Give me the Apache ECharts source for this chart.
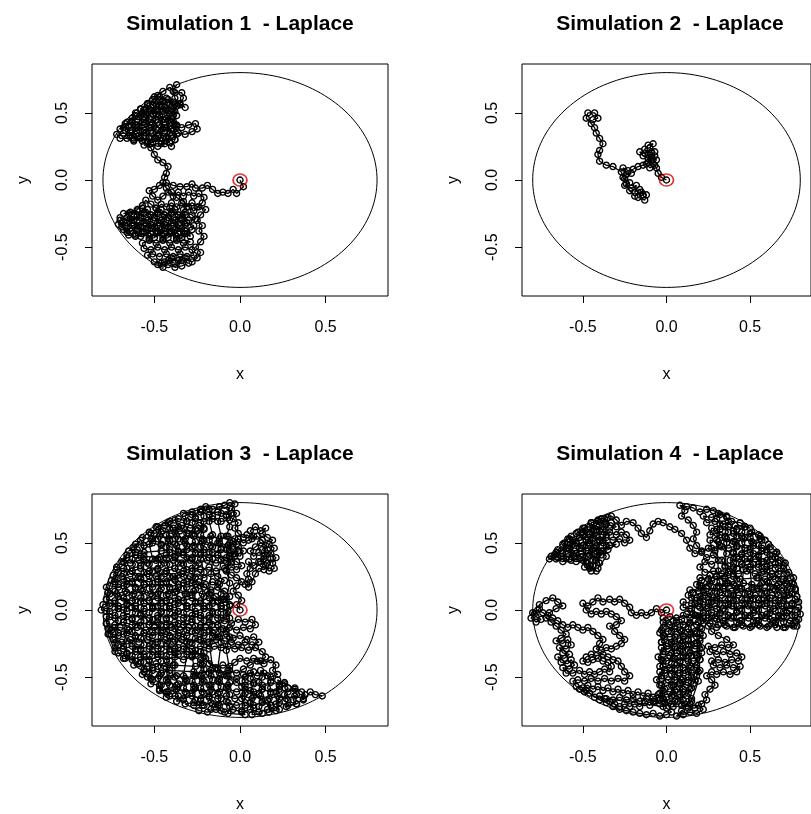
<!DOCTYPE html>
<html>
<head>
<meta charset="utf-8">
<script src="https://cdn.jsdelivr.net/npm/echarts@6/dist/echarts.min.js"></script>
<style>
html,body{margin:0;padding:0;background:#fff;}
#chart{width:811px;height:814px;}
</style>
</head>
<body>
<div id="chart"></div>
<script>
// Random-walk positions for each simulation, in hundredths of a unit ([x, y]).
const walk1 = [
[0,0],[2,-5],[-2,-10],[-4,-7],[-7,-10],[-10,-9],[-13,-10],[-16,-7],[-19,-4],[-22,-6],[-26,-6],[-28,-3],[-31,-5],[-35,-5],[-39,-4],[-43,-2],[-47,-4],[-50,-7],[-53,-8],
[-51,-12],[-48,-15],[-45,-12],[-42,-9],[-39,-12],[-36,-9],[-33,-12],[-30,-9],[-27,-12],[-24,-10],[-21,-13],[-22,-17],[-25,-20],[-28,-17],[-31,-20],[-34,-17],[-37,-20],[-40,-17],[-43,-20],[-46,-18],[-49,-21],[-52,-18],[-55,-15],[-57,-19],[-60,-22],
[-68,-25],[-64,-24],[-60,-26],[-56,-24],[-52,-26],[-48,-24],[-44,-26],[-40,-24],[-36,-26],[-32,-24],[-28,-26],
[-26,-29],[-30,-30],[-34,-28],[-38,-30],[-42,-28],[-46,-30],[-50,-28],[-54,-30],[-58,-28],[-62,-30],[-66,-28],[-70,-30],
[-71,-33],[-67,-34],[-63,-32],[-59,-34],[-55,-32],[-51,-34],[-47,-32],[-43,-34],[-39,-32],[-35,-34],[-31,-32],[-27,-34],
[-28,-37],[-32,-38],[-36,-36],[-40,-38],[-44,-36],[-48,-38],[-52,-36],[-56,-38],[-60,-36],[-64,-38],[-68,-37],
[-65,-41],[-61,-42],[-57,-40],[-53,-42],[-49,-40],[-45,-42],[-41,-40],[-37,-42],[-33,-40],[-29,-42],
[-33,-22],[-32,-26],[-34,-29],[-32,-33],[-34,-36],[-32,-40],[-34,-43],
[-37,-44],[-36,-40],[-38,-37],[-36,-33],[-38,-30],[-36,-26],[-38,-22],
[-41,-21],[-40,-25],[-42,-28],[-40,-32],[-42,-35],[-40,-39],[-42,-43],
[-45,-44],[-44,-40],[-46,-37],[-44,-33],[-46,-30],[-44,-26],[-46,-22],
[-49,-21],[-48,-25],[-50,-28],[-48,-32],[-50,-35],[-48,-39],[-50,-43],
[-53,-44],[-52,-40],[-54,-37],[-52,-33],[-54,-30],[-52,-26],[-54,-22],
[-57,-21],[-56,-25],[-58,-28],[-56,-32],[-58,-35],[-56,-39],[-58,-42],
[-61,-41],[-60,-37],[-62,-34],[-60,-30],[-62,-27],[-60,-23],
[-65,-25],[-64,-29],[-66,-32],[-64,-36],[-66,-39],
[-69,-35],[-68,-31],[-70,-28],
[-29,-46],[-33,-47],[-37,-45],[-41,-47],[-45,-45],[-49,-47],[-53,-45],[-57,-47],
[-56,-51],[-52,-52],[-48,-50],[-44,-52],[-40,-50],[-36,-52],[-32,-50],[-28,-52],
[-27,-56],[-31,-57],[-35,-55],[-39,-57],[-43,-55],[-47,-57],[-51,-55],[-54,-56],
[-50,-61],[-46,-62],[-42,-60],[-38,-62],[-34,-60],[-30,-62],
[-34,-64],[-38,-65],[-42,-63],[-45,-65],[-48,-63],
[-44,-61],[-40,-58],[-36,-60],[-32,-58],[-28,-61],[-25,-58],[-23,-54],[-26,-50],[-23,-46],[-21,-42],[-24,-38],[-22,-34],[-25,-30],[-23,-26],[-20,-22],[-24,-20],[-27,-23],
[-30,-20],[-33,-16],[-37,-13],[-40,-9],[-43,-6],[-45,-2],[-44,2],[-43,5],[-42,10],[-45,13],[-48,15],[-50,19],[-52,24],
[-56,26],[-52,27],[-48,25],[-44,27],[-40,25],
[-38,30],[-42,31],[-46,29],[-50,31],[-54,29],[-58,31],[-62,29],[-66,31],[-70,31],
[-72,34],[-68,35],[-64,33],[-60,35],[-56,33],[-52,35],[-48,33],[-44,35],[-40,33],[-36,35],[-32,34],[-28,36],[-25,38],[-26,42],[-30,41],[-34,39],[-37,40],
[-40,38],[-44,39],[-48,37],[-52,39],[-56,37],[-60,39],[-64,37],[-68,39],[-70,38],
[-67,42],[-63,43],[-60,41],[-56,43],[-52,41],[-48,43],[-44,41],[-40,43],[-38,41],
[-40,46],[-44,45],[-48,47],[-52,45],[-56,47],[-60,45],[-63,46],
[-61,50],[-57,49],[-53,51],[-49,49],[-45,51],[-41,49],[-38,51],
[-40,53],[-44,54],[-48,52],[-52,54],[-56,52],[-58,53],
[-54,57],[-50,58],[-46,56],[-42,58],[-38,56],
[-38,30],[-37,34],[-39,37],[-37,41],[-39,44],[-37,48],[-39,51],[-37,55],[-39,58],
[-42,60],[-41,56],[-43,53],[-41,49],[-43,46],[-41,42],[-43,39],[-41,35],[-43,32],[-41,28],
[-46,27],[-45,31],[-47,34],[-45,38],[-47,41],[-45,45],[-47,48],[-45,52],[-47,55],[-45,59],[-47,62],
[-50,62],[-49,59],[-51,56],[-49,52],[-51,49],[-49,45],[-51,42],[-49,38],[-51,35],[-49,31],[-51,28],
[-54,28],[-53,32],[-55,35],[-53,39],[-55,42],[-53,46],[-55,49],[-53,53],[-54,56],
[-58,53],[-57,50],[-59,47],[-57,43],[-59,40],[-57,36],[-59,33],[-57,29],
[-62,30],[-61,34],[-63,37],[-61,41],[-63,44],[-61,48],
[-66,43],[-65,40],[-67,37],[-65,33],
[-43,61],[-47,60],[-51,60],[-48,63],[-45,66],[-41,69],[-38,65],[-34,65],[-33,61],[-35,57],[-32,54],[-35,56],[-38,61],[-39,66],[-37,71]
];

const walk2 = [
[0,0],[-3,2],[-5,5],[-6,9],[-8,12],[-6,15],[-9,17],[-7,21],[-10,24],[-8,27],[-11,26],[-13,23],[-11,19],[-9,14],[-12,12],[-10,9],[-7,11],[-11,16],[-14,18],[-16,21],[-13,20],[-9,21],[-7,18],[-11,13],[-14,11],[-17,10],[-20,8],[-23,7],[-26,9],[-24,4],[-21,5],[-25,1],[-22,-2],[-25,-4],[-21,-6],[-18,-4],[-19,-9],[-16,-7],[-14,-11],[-17,-13],[-13,-15],[-12,-11],[-15,-9],[-19,-12],[-22,-8],[-24,-3],[-26,2],[-27,6],
[-32,10],[-36,11],[-40,14],[-41,19],[-40,22],[-38,27],[-40,31],[-42,35],[-43,39],[-45,42],[-48,46],[-47,50],[-43,50],[-41,46],[-44,45]
];

const walk3 = [
[0,0],[-2,4],[1,7],[-1,11],[-4,14],[-2,18],[1,21],[-2,24],[-5,26],[-8,29],[-5,32],[-2,30],[1,33],[-2,36],[-5,38],[-8,36],[-6,40],[-3,42],[0,40],[2,44],[-1,47],[-4,45],[-7,48],[-4,51],[-1,53],[2,50],
[5,52],[8,55],[6,59],[9,62],[12,59],[15,61],[13,57],[16,54],[19,52],[17,49],[20,46],[18,42],[21,39],[19,35],[20,31],[17,29],[15,33],[12,36],[14,40],[11,43],[8,40],[6,44],[9,47],[12,50],[15,48],[13,45],[16,42],[14,38],[11,36],[8,33],[5,36],[6,31],[4,27],[5,23],[3,19],[5,17],[7,21],[9,27],[11,31],[14,30],[16,35],[18,38],[16,45],[13,52],[10,55],[7,53],[4,56],[2,54],
[-1,57],[-3,61],[-1,65],[-4,68],[-2,72],[-5,75],[-3,79],[-6,80],[-9,78],
[-12,77],[-16,75],[-20,77],[-23,75],
[-33,72],[-28,71],[-23,73],[-18,71],[-13,73],[-8,71],[-5,72],
[-6,67],[-11,66],[-16,68],[-21,66],[-26,68],[-31,66],[-36,68],[-41,66],
[-49,62],[-44,63],[-39,61],[-34,63],[-29,61],[-24,63],[-21,60],
[-25,59],[-30,57],[-35,59],[-40,57],[-45,59],[-50,57],[-53,58],
[-57,54],[-52,53],[-47,55],[-42,53],[-37,55],[-32,53],[-27,55],[-22,53],[-17,55],[-12,53],[-7,55],[-3,53],
[-2,49],[-7,48],[-12,50],[-17,48],[-22,50],[-27,48],[-32,50],[-37,48],[-42,50],[-46,48],[-51,50],[-56,48],[-61,49],
[-65,44],[-60,45],[-56,43],[-46,44],[-41,45],[-36,43],[-31,45],[-26,43],[-21,45],[-16,43],[-11,45],[-6,43],[-1,44],
[-3,40],[-8,39],[-13,41],[-18,39],[-23,41],[-28,39],[-33,41],[-38,39],[-43,41],[-47,39],[-56,40],[-61,41],[-66,39],
[-69,36],[-64,35],[-59,37],[-54,35],[-49,37],[-44,35],[-39,37],[-34,35],[-29,37],[-24,35],[-19,37],[-14,35],[-9,37],[-5,35],
[-9,31],[-14,29],[-18,32],[-23,30],[-28,31],[-33,29],[-38,31],[-43,29],[-48,31],[-53,29],[-58,31],[-63,29],[-68,31],[-72,30],
[-74,26],[-69,25],[-64,27],[-59,25],[-54,27],[-49,25],[-44,27],[-39,25],[-34,27],[-29,25],[-25,27],[-21,24],[-17,27],[-13,25],[-9,22],[-12,19],[-16,21],[-20,19],[-24,21],
[-28,22],[-33,20],[-38,23],[-43,21],[-48,23],[-53,21],[-58,23],[-63,21],[-68,23],[-73,21],[-75,22],
[-76,18],[-71,17],[-66,19],[-61,17],[-56,19],[-51,17],[-46,19],[-41,17],[-36,19],[-31,17],[-26,19],[-21,17],[-17,15],[-13,17],[-9,14],[-6,10],[-10,8],[-14,10],
[-17,13],[-22,12],[-27,14],[-32,12],[-37,14],[-42,12],[-47,14],[-52,12],[-57,14],[-62,12],[-67,14],[-72,12],[-77,13],
[-78,8],[-73,7],[-68,9],[-63,7],[-58,9],[-53,7],[-48,9],[-43,7],[-38,9],[-33,7],[-28,9],[-23,7],[-18,9],[-13,7],[-9,8],
[-6,4],[-11,3],[-16,5],[-21,3],[-26,5],[-31,3],[-36,5],[-41,3],[-46,5],[-51,3],[-56,5],[-61,3],[-66,5],[-71,3],[-76,5],[-80,4],
[-81,0],[-76,-1],[-71,1],[-66,-1],[-61,1],[-56,-1],[-51,1],[-46,-1],[-41,1],[-36,-1],[-31,1],[-26,-1],[-21,1],[-16,-1],[-11,1],[-7,-1],
[-8,-5],[-13,-6],[-18,-4],[-23,-6],[-28,-4],[-33,-6],[-38,-4],[-43,-6],[-48,-4],[-53,-6],[-58,-4],[-63,-6],[-68,-4],[-73,-6],[-78,-5],
[-78,-10],[-73,-11],[-68,-9],[-63,-11],[-58,-9],[-53,-11],[-48,-9],[-43,-11],[-38,-9],[-33,-11],[-28,-9],[-23,-11],[-18,-9],[-13,-11],[-9,-8],[-5,-10],[-1,-7],[3,-9],[7,-7],[9,-11],[6,-14],[2,-13],[-2,-15],[-6,-13],
[-10,-14],[-15,-15],[-20,-13],[-25,-15],[-30,-13],[-35,-15],[-40,-13],[-45,-15],[-50,-13],[-55,-15],[-60,-13],[-65,-15],[-70,-13],[-75,-15],[-77,-14],
[-76,-18],[-71,-19],[-66,-17],[-61,-19],[-56,-17],[-51,-19],[-46,-17],[-41,-19],[-36,-17],[-31,-19],[-26,-17],[-21,-19],[-16,-17],[-12,-20],[-8,-18],[-4,-21],[0,-19],[4,-22],[8,-20],[11,-24],[7,-26],[3,-24],[-1,-26],[-5,-24],
[-9,-23],[-14,-22],[-19,-24],[-24,-22],[-29,-24],[-34,-22],[-39,-24],[-44,-22],[-49,-24],[-54,-22],[-59,-24],[-64,-22],[-69,-24],[-74,-22],
[-73,-28],[-68,-29],[-63,-27],[-58,-29],[-53,-27],[-48,-29],[-43,-27],[-38,-29],[-33,-27],[-28,-29],[-23,-27],[-18,-29],[-15,-27],[-11,-28],[-7,-27],[-3,-29],[1,-28],[5,-30],[9,-28],[13,-31],[15,-35],[12,-38],[8,-36],[4,-38],[0,-36],[-3,-39],[-6,-42],[-10,-41],[-14,-43],[-18,-40],[-20,-36],
[-21,-32],[-26,-33],[-31,-31],[-36,-33],[-41,-31],[-46,-33],[-51,-31],[-56,-33],[-61,-31],[-66,-33],[-71,-32],
[-68,-36],[-63,-37],[-58,-35],[-53,-37],[-48,-35],[-43,-37],[-38,-35],[-33,-37],[-28,-35],[-23,-37],
[-22,-41],[-26,-42],[-39,-41],[-44,-42],[-49,-40],[-54,-42],[-59,-40],[-62,-41],
[-56,-46],[-51,-45],[-46,-47],[-41,-45],[-27,-46],[-22,-47],[-17,-45],[-12,-47],[-7,-45],[-2,-47],[2,-44],[6,-41],[10,-38],[14,-40],[18,-37],[21,-41],[19,-45],[22,-48],[18,-50],[14,-47],[10,-49],[6,-47],[3,-50],
[-2,-51],[-7,-49],[-12,-51],[-17,-49],[-22,-51],[-27,-49],[-32,-51],[-37,-49],[-42,-51],[-47,-49],[-52,-51],[-54,-50],
[-52,-55],[-47,-56],[-42,-54],[-37,-56],[-32,-54],[-27,-56],[-22,-54],[-17,-56],[-12,-54],[-7,-56],[-2,-54],[3,-56],[8,-54],[13,-56],[18,-54],[23,-56],[26,-54],
[32,-59],[28,-61],[23,-59],[18,-61],[13,-59],[8,-61],[3,-59],[-2,-61],[-7,-59],[-12,-61],[-17,-59],[-22,-61],[-27,-59],[-32,-61],[-37,-59],[-42,-61],[-47,-59],
[-43,-65],[-38,-64],[-33,-66],[-28,-64],[-23,-66],[-18,-64],[-13,-66],[-8,-64],[-3,-66],[2,-64],[7,-66],[12,-64],[17,-66],[22,-64],[27,-66],[32,-64],[37,-66],
[33,-70],[28,-71],[23,-69],[18,-71],[13,-69],[8,-71],[3,-69],[-2,-71],[-7,-69],[-12,-71],[-17,-69],[-22,-71],[-27,-69],[-32,-70],
[-24,-75],[-19,-76],[-14,-74],[-9,-76],[-4,-74],[1,-76],[6,-74],[11,-76],[16,-74],[21,-75],
[-78,17],[-76,12],[-78,8],[-76,3],[-78,-1],[-76,-5],[-78,-10],[-76,-14],[-77,-18],
[-73,-31],[-71,-26],[-73,-22],[-71,-17],[-73,-13],[-71,-8],[-73,-4],[-71,1],[-73,5],[-71,10],[-73,14],[-71,19],[-73,23],[-71,28],[-72,32],
[-66,41],[-68,36],[-66,31],[-68,27],[-66,22],[-68,18],[-66,13],[-68,9],[-66,4],[-68,0],[-66,-5],[-68,-9],[-66,-14],[-68,-18],[-66,-23],[-68,-27],[-66,-32],[-67,-36],
[-61,-38],[-63,-34],[-61,-29],[-63,-25],[-61,-20],[-63,-16],[-61,-11],[-63,-7],[-61,-2],[-63,2],[-61,7],[-63,11],[-61,16],[-63,20],[-61,25],[-63,29],[-61,34],[-63,38],[-61,43],[-62,47],
[-58,52],[-56,48],[-58,40],[-56,37],[-58,33],[-56,28],[-58,24],[-56,19],[-58,15],[-56,10],[-58,6],[-56,1],[-58,-3],[-56,-8],[-58,-12],[-56,-17],[-58,-21],[-56,-26],[-58,-30],[-56,-35],[-58,-39],[-56,-44],[-57,-48],
[-51,-52],[-53,-47],[-51,-43],[-53,-38],[-51,-34],[-53,-29],[-51,-25],[-53,-20],[-51,-16],[-53,-11],[-51,-7],[-53,-2],[-51,2],[-53,7],[-51,11],[-53,16],[-51,20],[-53,25],[-51,29],[-53,34],[-51,38],[-53,49],[-51,53],[-52,57],
[-48,62],[-46,58],[-48,53],[-46,49],[-48,38],[-46,34],[-48,30],[-46,25],[-48,21],[-46,16],[-48,12],[-46,7],[-48,3],[-46,-2],[-48,-6],[-46,-11],[-48,-15],[-46,-20],[-48,-24],[-46,-29],[-48,-33],[-46,-38],[-48,-42],[-46,-47],[-48,-51],[-46,-56],[-47,-60],
[-41,-64],[-43,-61],[-41,-56],[-43,-52],[-41,-47],[-43,-43],[-41,-38],[-43,-34],[-41,-29],[-43,-25],[-41,-20],[-43,-16],[-41,-11],[-43,-7],[-41,-2],[-43,2],[-41,7],[-43,11],[-41,16],[-43,20],[-41,25],[-43,29],[-41,34],[-43,38],[-41,43],[-43,47],[-41,52],[-43,56],[-41,61],[-42,65],
[-38,67],[-36,62],[-38,58],[-36,53],[-38,49],[-36,44],[-38,40],[-36,35],[-38,31],[-36,26],[-38,22],[-36,17],[-38,13],[-36,8],[-38,4],[-36,-1],[-38,-5],[-36,-10],[-38,-14],[-36,-19],[-38,-23],[-36,-28],[-38,-32],[-38,-41],[-38,-50],[-36,-55],[-38,-59],[-36,-64],[-37,-68],
[-33,-67],[-31,-62],[-33,-58],[-31,-53],[-33,-49],[-31,-33],[-33,-29],[-31,-24],[-33,-20],[-31,-15],[-33,-11],[-31,-6],[-33,-2],[-31,3],[-33,7],[-31,12],[-33,16],[-31,21],[-33,25],[-31,30],[-33,34],[-31,39],[-33,43],[-31,48],[-33,52],[-31,57],[-33,61],[-31,66],[-32,70],
[-28,73],[-26,69],[-28,65],[-26,60],[-28,56],[-26,51],[-28,47],[-26,42],[-28,38],[-26,33],[-28,29],[-26,24],[-28,20],[-26,15],[-28,11],[-26,6],[-28,2],[-26,-3],[-28,-7],[-26,-12],[-28,-16],[-26,-21],[-28,-25],[-26,-30],[-28,-34],[-26,-49],[-28,-53],[-26,-58],[-28,-62],[-26,-67],[-27,-71],
[-21,-71],[-23,-67],[-21,-62],[-23,-58],[-21,-53],[-23,-49],[-21,-44],[-23,-40],[-21,-35],[-23,-31],[-21,-26],[-23,-22],[-21,-17],[-23,-13],[-21,-8],[-23,-4],[-21,1],[-23,5],[-21,10],[-23,18],[-21,28],[-23,38],[-21,43],[-23,47],[-21,52],[-23,56],[-21,61],[-23,65],[-21,70],[-22,74],
[-18,75],[-16,70],[-18,66],[-16,56],[-18,52],[-16,47],[-18,43],[-16,38],[-18,12],[-16,7],[-18,3],[-16,-2],[-18,-6],[-16,-11],[-18,-15],[-16,-20],[-18,-24],[-16,-43],[-18,-47],[-16,-52],[-18,-56],[-16,-61],[-18,-65],[-16,-70],[-17,-74],
[-11,-75],[-13,-71],[-11,-66],[-13,-62],[-11,-57],[-13,-53],[-11,-48],[-13,-44],[-11,-24],[-13,-20],[-11,-15],[-13,-11],[-11,-6],[-13,-2],[-11,3],[-13,7],[-11,12],[-13,20],[-11,37],[-13,41],[-11,46],[-13,50],[-11,55],[-13,66],[-11,72],[-12,77],
[-6,76],[-8,70],[-6,62],[-8,55],[-6,50],[-8,45],[-6,40],[-8,30],[-6,20],[-8,8],[-6,3],[-8,-2],[-6,-6],[-8,-15],[-6,-20],[-8,-30],[-6,-45],[-8,-49],[-6,-54],[-8,-58],[-6,-63],[-8,-68],[-6,-72],[-7,-77],
[3,-78],[1,-75],[3,-71],[1,-66],[3,-62],[1,-57],[3,-53],[2,-48],
[8,-46],[6,-51],[8,-55],[6,-60],[8,-64],[6,-69],[8,-73],[7,-78],
[13,-77],[11,-72],[13,-68],[11,-63],[13,-59],[11,-54],[13,-50],[12,-45],
[16,-49],[18,-53],[16,-58],[18,-62],[16,-67],[18,-71],[17,-76],
[23,-74],[21,-70],[23,-66],[21,-61],[23,-57],[22,-52],
[26,-55],[28,-58],[26,-63],[28,-67],[27,-72],
[33,-70],[31,-67],[33,-63],[32,-58],
[36,-61],[38,-63],[37,-67],
[41,-61],[44,-63],[48,-64]
];

const walk4 = [
[0,0],[-3,-2],[-6,1],[-9,-2],[-12,-4],[-15,-2],[-18,-4],[-21,-2],[-22,2],[-25,5],[-28,8],[-31,6],[-34,8],[-38,6],[-41,9],[-44,6],[-47,3],[-50,5],[-48,0],[-45,-3],[-42,-1],[-39,-3],[-36,-1],[-33,-3],[-30,-5],[-27,-8],[-30,-11],[-34,-12],
[-31,-16],[-28,-19],[-25,-22],[-27,-25],[-30,-27],[-33,-29],[-36,-28],[-39,-30],[-42,-29],[-40,-25],[-38,-22],[-41,-19],[-44,-16],[-47,-13],[-50,-15],[-53,-13],[-56,-11],[-59,-13],[-62,-11],[-65,-8],[-68,-6],[-71,-4],[-74,-2],[-77,0],[-80,-2],[-78,-5],[-75,-7],[-78,-9],[-81,-6],[-79,-3],[-76,1],[-76,4],[-72,7],[-68,9],[-65,6],[-62,3],[-66,1],[-70,-2],[-72,-6],[-69,-9],[-66,-12],
[-63,-15],[-60,-18],[-63,-21],[-66,-23],[-62,-25],[-59,-22],[-57,-26],[-60,-29],[-64,-28],[-62,-32],[-58,-33],[-61,-36],[-65,-35],[-63,-39],[-59,-40],[-57,-37],[-55,-41],[-58,-44],[-62,-43],[-60,-47],[-56,-47],
[-52,-45],[-49,-48],[-46,-46],[-43,-48],[-40,-46],[-37,-44],[-34,-46],[-33,-42],[-35,-39],[-38,-38],[-41,-36],[-44,-37],[-47,-39],[-50,-38],[-48,-35],[-45,-33],[-42,-34],[-38,-33],[-35,-35],[-32,-37],[-29,-38],[-27,-42],[-25,-46],[-22,-49],
[-25,-53],[-29,-51],[-33,-53],[-37,-51],[-41,-53],[-45,-51],[-49,-53],[-53,-52],[-56,-53],[-54,-57],[-50,-58],[-47,-56],[-44,-59],[-41,-57],[-38,-60],[-35,-58],[-32,-61],[-29,-59],[-26,-62],[-23,-60],[-20,-63],[-17,-61],[-14,-64],[-11,-62],[-8,-65],[-5,-63],[-2,-66],
[-4,-70],[-7,-68],[-10,-71],[-13,-69],[-16,-72],[-19,-70],[-22,-72],[-25,-70],[-28,-72],[-31,-70],[-34,-68],[-37,-66],[-40,-64],[-43,-65],[-46,-62],[-49,-61],[-52,-59],[-48,-60],
[-40,-67],[-36,-69],[-32,-72],[-28,-74],[-24,-75],[-20,-76],[-16,-77],[-12,-78],[-8,-77],[-4,-79],[0,-78],[3,-76],[0,-73],
[-4,-67],[-8,-68],[-12,-66],[-16,-68],[-20,-66],[-24,-67],[-28,-65],[-32,-67],[-36,-66],
[-2,-72],[1,-69],[-2,-66],[-4,-62],[-1,-59],[-4,-56],[-6,-52],[-3,-49],[-1,-45],[-4,-42],[-2,-38],[-5,-35],[-2,-31],[0,-27],[-3,-24],[-1,-20],[-4,-17],[-2,-13],[1,-10],[-2,-6],[2,-5],[6,-6],[10,-4],[14,-6],[18,-4],[22,-6],
[22,-10],[18,-11],[14,-9],[10,-11],[6,-9],[2,-11],[-2,-9],
[-3,-15],[1,-16],[5,-14],[9,-16],[13,-14],[17,-16],[21,-14],
[22,-19],[18,-20],[14,-18],[10,-20],[6,-18],[2,-20],[-2,-19],
[-3,-24],[1,-25],[5,-23],[9,-25],[13,-23],[17,-25],[20,-23],
[21,-28],[17,-29],[13,-27],[9,-29],[5,-27],[1,-29],[-3,-28],
[-2,-33],[2,-34],[6,-32],[10,-34],[14,-32],[18,-34],[21,-32],
[20,-37],[16,-38],[12,-36],[8,-38],[4,-36],[0,-38],[-3,-37],
[-2,-42],[2,-43],[6,-41],[10,-43],[14,-41],[18,-43],
[19,-46],[15,-47],[11,-45],[7,-47],[3,-45],[-1,-47],[-4,-46],
[-3,-51],[1,-52],[5,-50],[9,-52],[13,-50],[17,-52],
[16,-55],[12,-56],[8,-54],[4,-56],[0,-54],[-3,-56],
[-2,-60],[2,-61],[6,-59],[10,-61],[14,-59],
[12,-64],[8,-65],[4,-63],[0,-65],[-3,-64],
[-1,-69],[3,-70],[7,-68],[11,-70],[15,-68],
[19,-53],[18,-49],[20,-45],[18,-41],[20,-37],[18,-33],[20,-29],[18,-25],[20,-21],[18,-17],[20,-13],[19,-9],
[14,-10],[13,-14],[15,-18],[13,-22],[15,-26],[13,-30],[15,-34],[13,-38],[15,-42],[13,-46],[15,-50],[13,-54],[15,-58],[13,-62],[15,-66],[14,-70],
[9,-71],[10,-67],[8,-63],[10,-59],[8,-55],[10,-51],[8,-47],[10,-43],[8,-39],[10,-35],[8,-31],[10,-27],[8,-23],[10,-19],[8,-15],[10,-11],[9,-7],
[4,-8],[5,-12],[3,-16],[5,-20],[3,-24],[5,-28],[3,-32],[5,-36],[3,-40],[5,-44],[3,-48],[5,-52],[3,-56],[5,-60],[3,-64],[5,-68],[4,-72],
[19,-71],[22,-74],[18,-77],[14,-76],[10,-78],[6,-79],[9,-75],[13,-73],[17,-73],[21,-70],[24,-67],[23,-63],[26,-59],[29,-56],[27,-52],[24,-49],[27,-46],[30,-48],
[34,-46],[38,-48],[42,-46],[44,-42],[40,-43],[36,-41],[32,-43],[28,-41],[27,-38],[31,-37],[35,-39],[39,-37],[43,-38],[45,-35],[42,-32],[38,-33],[34,-31],[30,-33],[26,-31],[25,-27],[29,-28],[33,-26],[37,-28],[40,-26],[36,-22],[31,-19],[27,-16],[25,-12],
[30,-13],[35,-11],[40,-13],[45,-11],[50,-13],[55,-11],[60,-13],[65,-11],[70,-13],[75,-11],[78,-12],
[79,-7],[74,-8],[69,-6],[64,-8],[59,-6],[54,-8],[49,-6],[44,-8],[39,-6],[34,-8],[29,-6],[24,-8],
[12,-3],[17,-4],[22,-2],[27,-4],[32,-2],[37,-4],[42,-2],[47,-4],[52,-2],[57,-4],[62,-2],[67,-4],[72,-2],[77,-4],[80,-3],
[79,2],[74,1],[69,3],[64,1],[59,3],[54,1],[49,3],[44,1],[39,3],[34,1],[29,3],[24,1],[19,3],[14,1],[10,2],
[10,6],[15,5],[20,7],[25,5],[30,7],[35,5],[40,7],[45,5],[50,7],[55,5],[60,7],[65,5],[70,7],[75,5],[79,6],
[78,10],[73,11],[68,9],[63,11],[58,9],[53,11],[48,9],[43,11],[38,9],[33,11],[28,9],[23,11],[18,9],[13,11],
[14,15],[19,14],[24,16],[29,14],[34,16],[39,14],[44,16],[49,14],[54,16],[59,14],[64,16],[69,14],[74,16],[77,15],
[76,19],[71,20],[66,18],[61,20],[56,18],[51,19],[46,20],[41,18],[36,20],[31,18],[26,20],[21,18],[18,19],
[20,24],[25,23],[30,25],[35,23],[40,25],[44,23],[54,24],[59,23],[64,25],[69,23],[74,24],
[73,28],[68,29],[63,27],[58,29],[53,27],[48,29],[43,27],[38,29],[33,27],[28,29],[23,28],
[20,32],[23,36],[27,34],[31,37],[28,41],[24,39],[21,43],[25,46],[29,44],[33,47],[36,42],[33,37],[35,33],
[40,32],[45,34],[50,32],[55,34],[60,32],[65,34],[70,33],
[68,37],[63,38],[58,36],[53,38],[48,36],[43,38],[38,37],
[40,42],[45,41],[50,43],[55,41],[60,43],[65,42],
[71,35],[70,31],[72,27],[70,23],[72,19],[70,15],[72,11],[70,7],[72,3],[70,-1],[72,-5],[70,-9],[71,-13],
[76,-12],[77,-8],[75,-4],[77,0],[75,4],[77,8],[75,12],[77,16],[75,20],[76,24],
[66,-13],[65,-9],[67,-5],[65,-1],[67,3],[65,7],[67,11],[65,15],[67,19],[65,23],[67,27],[65,31],[67,35],[65,39],[66,43],
[61,49],[60,45],[62,41],[60,37],[62,33],[60,29],[62,25],[60,21],[62,17],[60,13],[62,9],[60,5],[62,1],[60,-3],[62,-7],[61,-12],
[56,-12],[55,-8],[57,-4],[55,0],[57,4],[55,8],[57,12],[55,16],[57,20],[55,24],[57,28],[55,32],[57,36],[55,40],[57,44],[55,48],[57,52],[56,55],
[51,58],[50,54],[52,50],[50,46],[52,42],[50,38],[52,34],[50,30],[51,16],[50,12],[52,8],[50,4],[52,0],[50,-4],[52,-8],[51,-12],
[46,-12],[45,-8],[47,-4],[45,0],[47,4],[45,8],[47,12],[45,16],[46,30],[45,34],[47,38],[45,42],[47,46],[45,50],[47,54],[45,58],[47,62],
[41,63],[40,59],[42,55],[40,51],[42,47],[40,43],[42,39],[40,35],[42,31],[40,27],[42,23],[40,19],[42,15],[40,11],[42,7],[40,3],[42,-1],[40,-5],[42,-9],[41,-13],
[36,-12],[35,-8],[37,-4],[35,0],[37,4],[35,8],[37,12],[35,16],[37,20],[35,24],[37,28],[35,32],[36,50],[35,54],[37,58],[35,62],[37,66],[36,69],
[31,72],[30,68],[32,64],[30,60],[32,56],[30,52],[31,29],[30,25],[32,21],[30,17],[32,13],[30,9],[32,5],[30,1],[32,-3],[30,-7],[31,-11],
[26,-10],[25,-6],[27,-2],[25,2],[27,6],[25,10],[27,14],[25,18],[27,22],[26,26],
[21,22],[20,18],[22,14],[20,10],[22,6],[20,2],[22,-2],[20,-6],
[16,-3],[15,1],[17,5],[15,9],[16,13],
[62,47],[57,46],[52,48],[47,46],[42,48],[37,46],[32,48],[27,46],
[26,52],[31,51],[36,53],[41,51],[46,53],[51,51],[56,53],[59,52],
[55,56],[50,57],[45,55],[40,57],[35,55],[30,57],[26,56],
[27,61],[32,60],[37,62],[42,60],[47,62],[50,61],
[44,65],[39,66],[34,64],[29,66],[24,65],
[22,70],[27,69],[32,71],[36,70],
[28,74],[24,75],[20,73],[16,76],[12,77],[8,78],[11,74],
[9,70],[13,67],[16,63],[18,58],[16,53],[18,48],[21,44],[17,42],[14,46],[12,52],[9,57],[5,60],[2,62],[-2,65],[-5,66],[-8,64],[-10,59],[-12,54],[-15,57],[-17,61],[-20,65],[-24,66],[-27,63],[-30,67],[-33,70],
[-35,69],[-39,68],
[-45,65],[-41,66],[-37,64],[-33,65],
[-30,62],[-34,61],[-38,62],[-42,60],[-46,62],[-50,61],
[-54,57],[-50,58],[-46,56],[-42,58],[-38,56],[-34,58],[-30,56],[-27,58],[-24,56],[-22,52],[-25,50],
[-28,53],[-32,52],[-36,54],[-40,52],[-44,54],[-48,52],[-52,54],[-56,52],[-59,53],
[-62,49],[-58,48],[-54,50],[-50,48],[-46,50],[-42,48],[-38,50],[-34,48],[-30,49],
[-35,45],[-39,44],[-43,46],[-47,44],[-51,46],[-55,44],[-59,46],[-63,44],[-65,45],
[-67,41],[-63,40],[-59,42],[-55,40],[-51,42],[-47,40],[-43,42],[-39,41],
[-42,37],[-44,33],[-42,29],[-46,31],[-48,35],
[-50,37],[-54,36],[-58,38],[-62,36],[-66,38],[-70,38],
[-37,68],[-36,64],[-38,60],[-36,56],[-38,52],[-36,48],[-38,44],[-36,40],
[-41,31],[-40,35],[-42,39],[-40,43],[-42,47],[-40,51],[-42,55],[-40,59],[-42,63],[-41,67],
[-45,65],[-44,61],[-46,57],[-44,53],[-46,49],[-44,45],[-46,41],[-44,37],[-46,33],[-45,29],
[-49,32],[-48,36],[-50,40],[-48,44],[-50,48],[-48,52],[-50,56],[-49,61],
[-53,58],[-52,54],[-54,50],[-52,46],[-54,42],[-52,38],
[-57,37],[-56,41],[-58,45],[-56,49],[-58,53],[-57,55],
[-61,50],[-60,46],[-62,42],[-60,38],
[-65,39],[-66,43],[-69,40]
];

const titles = [
  'Simulation 1  - Laplace',
  'Simulation 2  - Laplace',
  'Simulation 3  - Laplace',
  'Simulation 4  - Laplace'
];
const tickValues = [-0.5, 0, 0.5];
const startPoint = [0, 0];
const RADIUS = 0.8;          // radius of the domain boundary
const AXIS_LIMIT = 0.864;    // axis range with 4% padding around +-0.8

const FONT = '"Liberation Sans", Arial, Helvetica, sans-serif';
const PLOT_W = 296, PLOT_H = 232;
const gridPos = [[92, 64], [522, 64], [92, 494], [522, 494]];
const walks = [walk1, walk2, walk3, walk4];

// Domain boundary: circle of radius RADIUS around the origin
const boundary = [];
for (let deg = 0; deg <= 360; deg += 2) {
  const t = deg * Math.PI / 180;
  boundary.push([RADIUS * Math.cos(t), RADIUS * Math.sin(t)]);
}

const grids = gridPos.map(p => ({
  left: p[0], top: p[1], width: PLOT_W, height: PLOT_H,
  show: true, borderColor: '#000', borderWidth: 1, backgroundColor: 'transparent',
  containLabel: false
}));

const makeAxis = (i, name, isY) => ({
  gridIndex: i,
  type: 'value',
  position: isY ? 'left' : 'bottom',
  min: -AXIS_LIMIT, max: AXIS_LIMIT,
  axisLine: { show: false, onZero: false },
  splitLine: { show: false },
  axisTick: { show: true, inside: false, length: 7, lineStyle: { color: '#000', width: 1 }, customValues: tickValues },
  axisLabel: {
    show: true, customValues: tickValues,
    formatter: v => Number(v).toFixed(1),
    color: '#000', fontSize: 16, fontFamily: FONT, margin: isY ? 21 : 24,
    rotate: isY ? 90 : 0
  },
  name: name,
  nameLocation: 'middle',
  nameGap: isY ? 60 : 71,
  nameTextStyle: { color: '#000', fontSize: 16, fontFamily: FONT }
});

const series = [];
walks.forEach((w, i) => {
  series.push({
    type: 'line', xAxisIndex: i, yAxisIndex: i,
    data: boundary, symbol: 'none', showSymbol: false,
    lineStyle: { color: '#000', width: 1 }, silent: true, z: 1, animation: false
  });
  series.push({
    type: 'line', xAxisIndex: i, yAxisIndex: i,
    data: w.map(p => [p[0] / 100, p[1] / 100]),
    symbol: 'circle', symbolSize: 6, showSymbol: true, showAllSymbol: true,
    itemStyle: { color: 'rgba(0,0,0,0)', borderColor: '#000', borderWidth: 1.4 },
    lineStyle: { color: '#000', width: 1.3 },
    silent: true, z: 2, animation: false, clip: true
  });
  series.push({
    type: 'scatter', xAxisIndex: i, yAxisIndex: i,
    data: [startPoint], symbol: 'circle', symbolSize: [14, 12],
    itemStyle: { color: 'rgba(0,0,0,0)', borderColor: '#e00000', borderWidth: 1.6 },
    silent: true, z: 3, animation: false
  });
});

const chart = echarts.init(document.getElementById('chart'), null, { renderer: 'canvas', width: 811, height: 814 });
chart.setOption({
  animation: false,
  backgroundColor: '#fff',
  grid: grids,
  xAxis: gridPos.map((p, i) => makeAxis(i, 'x', false)),
  yAxis: gridPos.map((p, i) => makeAxis(i, 'y', true)),
  graphic: titles.map((t, i) => ({
    type: 'text',
    x: gridPos[i][0] + PLOT_W / 2,
    y: gridPos[i][1] - 40,
    style: { text: t, fill: '#000', font: 'bold 21px ' + FONT, align: 'center', verticalAlign: 'middle' }
  })),
  series: series
});
</script>
</body>
</html>
